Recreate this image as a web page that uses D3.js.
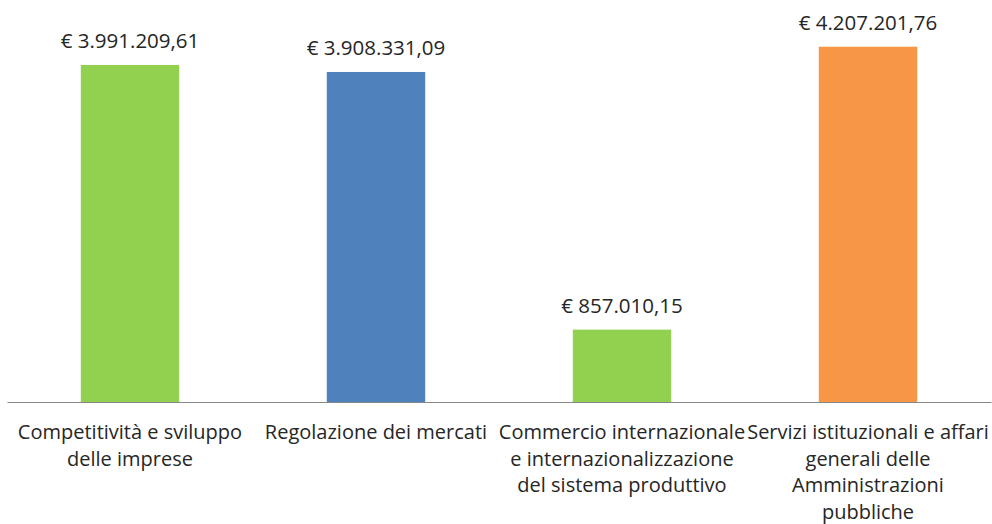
<!DOCTYPE html>
<html><head><meta charset="utf-8">
<script src="https://cdn.jsdelivr.net/npm/d3@7"></script>
<style>body{margin:0;background:#fff;}svg{display:block;}</style>
</head><body>
<svg id="c" width="992" height="524"></svg>
<script>
const categories = [
  "Competitività e sviluppo|delle imprese",
  "Regolazione dei mercati",
  "Commercio internazionale|e internazionalizzazione|del sistema produttivo",
  "Servizi istituzionali e affari|generali delle|Amministrazioni|pubbliche"
];
const values = [3991209.61, 3908331.09, 857010.15, 4207201.76];
const valueLabels = ["€ 3.991.209,61", "€ 3.908.331,09", "€ 857.010,15", "€ 4.207.201,76"];
const colors = ["#92D050", "#4F81BD", "#92D050", "#F79646"];

const svg = d3.select("#c");
const font = "'Open Sans', sans-serif";
const x = d3.scaleBand().domain(d3.range(categories.length)).range([7, 991]).paddingInner(0.6).paddingOuter(0.3);
const y = d3.scaleLinear().domain([0, 4500000]).range([402, 22]);

svg.selectAll("rect.bar").data(values).enter().append("rect")
  .attr("class","bar")
  .attr("x", (d,i)=>x(i)).attr("width", x.bandwidth())
  .attr("y", d=>y(d)).attr("height", d=>y(0)-y(d))
  .attr("fill", (d,i)=>colors[i]);

const ax = svg.append("g").attr("transform","translate(0,402)")
  .call(d3.axisBottom(x).tickSize(0).tickFormat(""));
ax.select(".domain").attr("stroke","#868686").attr("stroke-width",1.2);

svg.selectAll("text.val").data(values).enter().append("text")
  .attr("class","val")
  .attr("x",(d,i)=>x(i)+x.bandwidth()/2)
  .attr("y", d=>y(d)-17)
  .attr("text-anchor","middle")
  .attr("font-family", font).attr("font-size", 20.5).attr("fill","#262626")
  .text((d,i)=>valueLabels[i]);

const lab = svg.selectAll("text.cat").data(categories).enter().append("text")
  .attr("class","cat")
  .attr("text-anchor","middle")
  .attr("font-family", font).attr("font-size", 20).attr("fill","#262626");
lab.each(function(d,i){
  const t = d3.select(this);
  d.split("|").forEach((line,j)=>{
    t.append("tspan").attr("x", x(i)+x.bandwidth()/2).attr("y", 439 + j*26.5).text(line);
  });
});
</script>
</body></html>
